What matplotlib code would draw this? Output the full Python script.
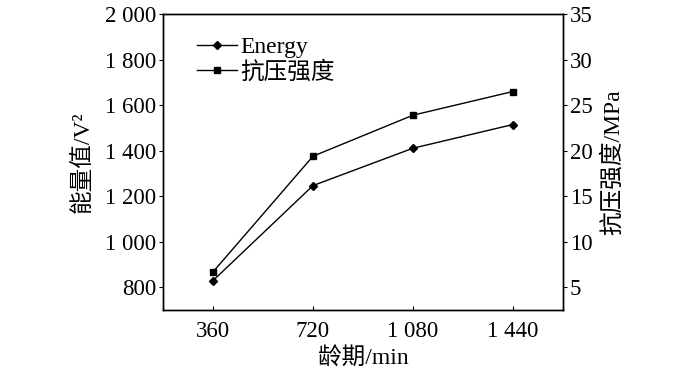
import matplotlib
matplotlib.use("Agg")
import matplotlib.pyplot as plt

# data
age = [360, 720, 1080, 1440]
energy = [830, 1247, 1411, 1515]
strength = [6.7, 19.4, 23.9, 26.5]

x_ticks = [360, 720, 1080, 1440]
x_labels = ["360", "720", "1 080", "1 440"]
left_ticks = [800, 1000, 1200, 1400, 1600, 1800, 2000]
left_labels = ["800", "1 000", "1 200", "1 400", "1 600", "1 800", "2 000"]
right_ticks = [5, 10, 15, 20, 25, 30, 35]

plt.rcParams["font.family"] = ["Liberation Serif", "Noto Sans CJK SC"]

fig = plt.figure(figsize=(7, 3.71), dpi=100)
ax = fig.add_axes([0.233, 0.164, 0.571, 0.798])
ax2 = ax.twinx()

l1, = ax.plot(age, energy, color="black", lw=1, marker="D", ms=4.5, label="Energy")
l2, = ax2.plot(age, strength, color="black", lw=1, marker="s", ms=4.5, label="抗压强度")

ax.set_xlim(180, 1620)
ax.set_ylim(700, 2000)
ax2.set_ylim(2.5, 35)

ax.set_xticks(x_ticks)
ax.set_xticklabels(x_labels, fontsize=16.5)
ax.set_yticks(left_ticks)
ax.set_yticklabels(left_labels, fontsize=16.5)
ax2.set_yticks(right_ticks)
ax2.set_yticklabels([str(t) for t in right_ticks], fontsize=16.5)

ax.tick_params(axis="x", direction="in", length=3, pad=8)
ax.tick_params(axis="y", direction="out", length=3, pad=2)
ax2.tick_params(axis="y", direction="out", length=3, pad=2)

ax.set_xlabel("龄期/min", fontsize=17, labelpad=4)
ax.set_ylabel("能量值/V²", fontsize=17, labelpad=8)
ax2.set_ylabel("抗压强度/MPa", fontsize=17, labelpad=6)

for a in (ax, ax2):
    for s in a.spines.values():
        s.set_linewidth(1)

ax.legend(handles=[l1, l2], loc="upper left", frameon=False, fontsize=17,
          handlelength=1.7, handletextpad=0.15, labelspacing=0.13,
          borderaxespad=0.0, borderpad=0.0, bbox_to_anchor=(0.085, 0.925))

fig.savefig("out.png", dpi=100)
